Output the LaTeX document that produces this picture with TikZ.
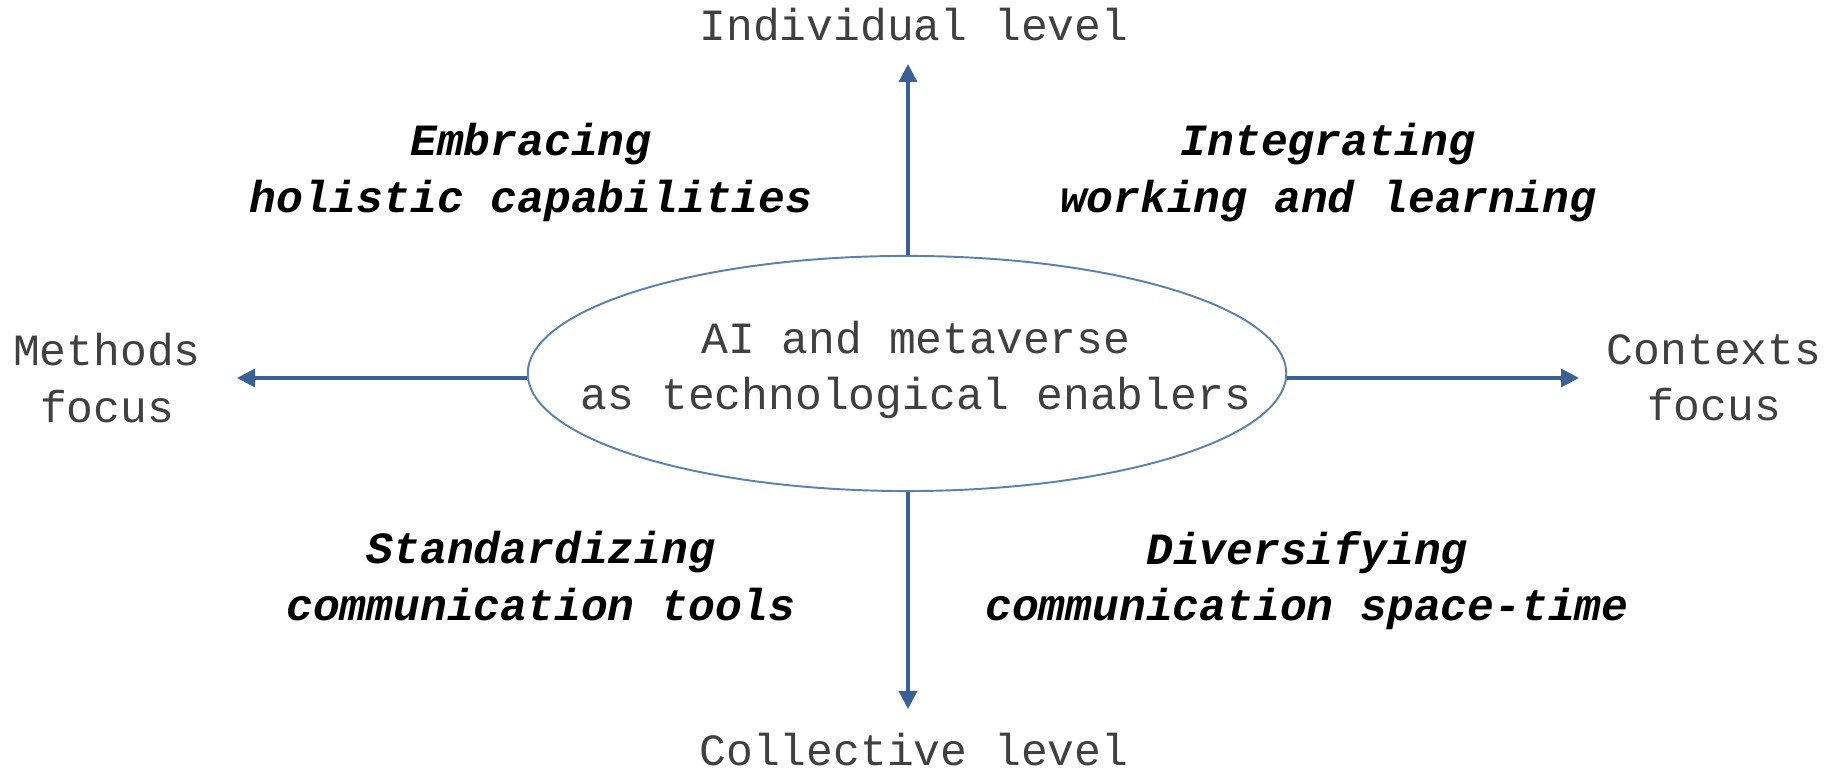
\documentclass[tikz,border=0pt]{standalone}
\usepackage{fontspec}
\setmonofont{Liberation Mono}
\usetikzlibrary{shapes.geometric, arrows.meta, positioning}
\definecolor{axisblue}{HTML}{3B6096}
\definecolor{rimblue}{HTML}{5B80B2}
\definecolor{labelgray}{HTML}{404040}

\begin{document}
\begin{tikzpicture}[
        x=0.01cm, y=-0.01cm,
        enabler/.style={draw=rimblue, ellipse, line width=0.55pt, minimum width=7.58cm, minimum height=2.35cm, inner xsep=-0.9cm, inner ysep=0pt, align=center, text=labelgray, font=\ttfamily\fontsize{12.7}{16}\selectfont},
        pole/.style={align=center, inner sep=0pt, text=labelgray, font=\ttfamily\fontsize{12.7}{16}\selectfont},
        theme/.style={align=center, inner sep=0pt, text=black, font=\ttfamily\bfseries\itshape\fontsize{12.7}{16}\selectfont},
        axis/.style={draw=axisblue, line width=0.95pt, -{Triangle[length=0.18cm, width=0.18cm]}}
    ]
        \useasboundingbox (0,0) rectangle (1837,771);

        % Nodes
        \node (enabler) [enabler] at (907,373.5) {};
        \node (enablertext) [pole] at (916,370) {AI and metaverse\\as technological enablers};

        \node (individual) [pole, anchor=base] at (914,41) {Individual level};
        \node (collective) [pole, anchor=base] at (914,766) {Collective level};
        \node (methods) [pole] at (107,378) {Methods\\focus};
        \node (contexts) [pole] at (1714,378) {Contexts\\focus};

        \coordinate (individualtip) at (908,64);
        \coordinate (collectivetip) at (908,709);
        \coordinate (methodstip) at (237,378);
        \coordinate (contextstip) at (1579,378);

        % Quadrants
        \node (embracing) [theme] at (531,172.5) {Embracing\\holistic capabilities};
        \node (integrating) [theme] at (1328,172.5) {Integrating\\working and learning};
        \node (standardizing) [theme] at (541,576) {Standardizing\\communication tools};
        \node (diversifying) [theme] at (1307,580.5) {Diversifying\\communication space-time};

        % Axes
        \draw[axis] (individualtip |- enabler.north) -- (individualtip);
        \draw[axis] (collectivetip |- enabler.south) -- (collectivetip);
        \draw[axis] (methodstip -| enabler.west) -- (methodstip);
        \draw[axis] (contextstip -| enabler.east) -- (contextstip);

    \end{tikzpicture}
\end{document}
